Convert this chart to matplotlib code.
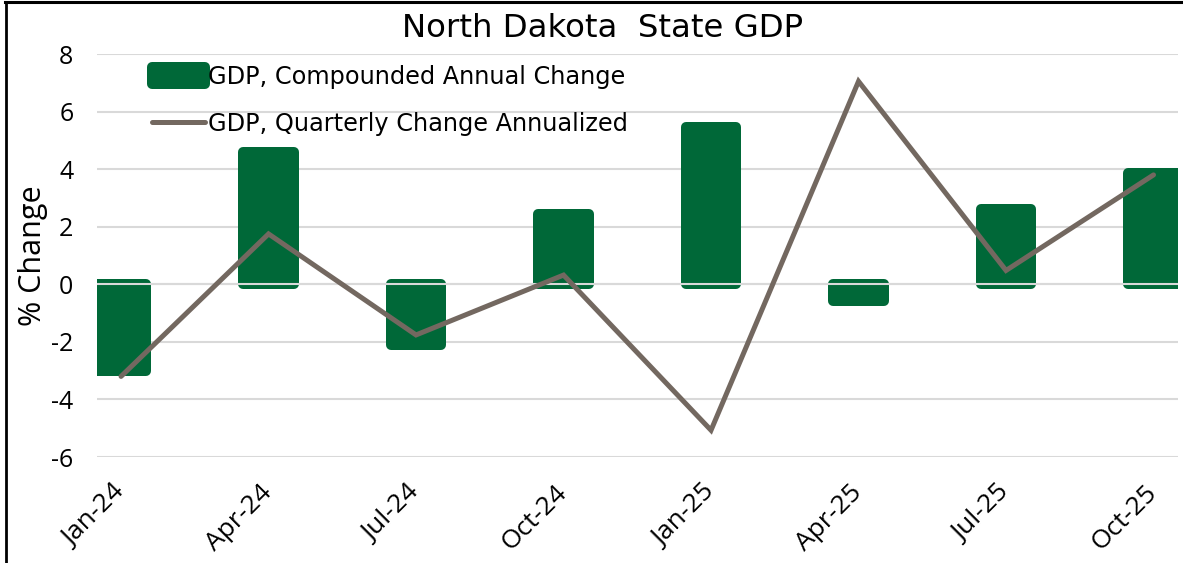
import numpy as np
import matplotlib.pyplot as plt
from matplotlib.lines import Line2D

plt.rcParams['axes.unicode_minus'] = False

quarters = ["Jan-24", "Apr-24", "Jul-24", "Oct-24", "Jan-25", "Apr-25", "Jul-25", "Oct-25"]
gdp_annual = [-3.0, 4.6, -2.1, 2.45, 5.45, -0.58, 2.62, 3.87]
gdp_quarterly = [-3.2, 1.75, -1.76, 0.32, -5.07, 7.05, 0.48, 3.8]

GREEN = "#006838"
LINE_C = "#736860"
GRID_C = "#d9d9d9"

fig = plt.figure(figsize=(11.83, 5.63), dpi=100)
ax = fig.add_axes([97 / 1183, 106 / 563, 1081 / 1183, 403 / 563])

x = np.arange(len(quarters))
ax.set_xlim(-0.163, 7.166)
ax.set_ylim(-6, 8)
ax.set_yticks(np.arange(-6, 9, 2))
ax.grid(axis="y", color=GRID_C, lw=1.5, zorder=0)
ax.set_axisbelow(True)

# thick edge in the fill colour with round joins gives the rounded bar look
bars = ax.bar(x, gdp_annual, width=0.34, color=GREEN, edgecolor=GREEN, linewidth=7.2,
              joinstyle="round", zorder=2)
ax.axhline(0, color=GRID_C, lw=1.5, zorder=3)
line, = ax.plot(x, gdp_quarterly, color=LINE_C, lw=3.6, solid_capstyle="round",
                solid_joinstyle="miter", zorder=4)

for s in ax.spines.values():
    s.set_visible(False)
ax.tick_params(axis="y", length=0, pad=17, labelsize=18, labelfontfamily="Open Sans")
ax.set_ylabel("% Change", fontsize=22, family="Open Sans", labelpad=2)

ax.set_xticks(x)
ax.set_xticklabels(quarters, rotation=45, ha="right", va="center",
                   rotation_mode="anchor")
ax.tick_params(axis="x", length=0, pad=23, labelsize=19, labelfontfamily="Open Sans")

leg = ax.legend([bars, line],
                ["GDP, Compounded Annual Change", "GDP, Quarterly Change Annualized"],
                loc="upper left", bbox_to_anchor=(0.04, 1.003), frameon=False,
                fontsize=17.3, handlelength=2.2, handleheight=0.7,
                handletextpad=0.12, labelspacing=0.95, borderpad=0)
for t in leg.get_texts():
    t.set_fontfamily("DejaVu Sans")
for h in leg.legend_handles:
    if hasattr(h, "set_joinstyle"):
        h.set_joinstyle("round")

fig.text(0.509, 0.95, "North Dakota  State GDP", ha="center", va="center",
         fontsize=23.3, family="DejaVu Sans")

# frame along the top and left edges
fig.add_artist(Line2D([5 / 1183, 1], [1 - 2 / 563, 1 - 2 / 563], color="black", lw=2.2,
                      transform=fig.transFigure))
fig.add_artist(Line2D([6 / 1183, 6 / 1183], [0, 1 - 2 / 563], color="black", lw=2.0,
                      transform=fig.transFigure))

fig.savefig("out.png", dpi=100)
